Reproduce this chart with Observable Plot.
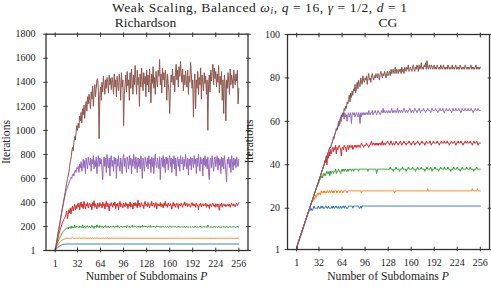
<!DOCTYPE html>
<html><head><meta charset="utf-8">
<script src="https://cdn.jsdelivr.net/npm/d3@7"></script>
<script src="https://cdn.jsdelivr.net/npm/@observablehq/plot@0.6"></script>
<style>
body{margin:0;background:#fff;}
#wrap{position:relative;width:491px;height:287px;overflow:hidden;background:#fff;}
#wrap svg{position:absolute;top:0;}
</style></head><body><div id="wrap"></div>
<script>
const P_TICKS = [1,32,64,96,128,160,192,224,256];
const RICH_Y_TICKS = [1,200,400,600,800,1000,1200,1400,1600,1800];
const CG_Y_TICKS = [1,20,40,60,80,100];
const COLORS = ["#1f77b4","#ff7f0e","#2ca02c","#d62728","#9467bd","#8c564b"];
const TITLE = "Weak Scaling, Balanced";
const PANEL_TITLES = ["Richardson","CG"];
const X_LABEL = "Number of Subdomains";
const Y_LABEL = "Iterations";

// Richardson iterations, P = 1..256
const richBlue = [
1,9,16,22,28,33,37,41,44,47,49,51,52,53,54,55,
55,55,55,55,55,55,55,55,55,55,55,55,55,55,55,55,
55,55,55,55,55,55,55,55,55,55,55,55,55,55,55,55,
55,55,55,55,55,55,55,55,55,55,55,55,55,55,55,55,
55,55,55,55,55,55,55,55,55,55,55,55,55,55,55,55,
55,55,55,55,55,55,55,55,55,55,55,55,55,55,55,55,
55,55,55,55,55,55,55,55,55,55,55,55,55,55,55,55,
55,55,55,55,55,55,55,55,55,55,55,55,55,55,55,55,
55,55,55,55,55,55,55,55,55,55,55,55,55,55,55,55,
55,55,55,55,55,55,55,55,55,55,55,55,55,55,55,55,
55,55,55,55,55,55,55,55,55,55,55,55,55,55,55,55,
55,55,55,55,55,55,55,55,55,55,55,55,55,55,55,55,
55,55,55,55,55,55,55,55,55,55,55,55,55,55,55,55,
55,55,55,55,55,55,55,55,55,55,55,55,55,55,55,55,
55,55,55,55,55,55,55,55,55,55,55,55,55,55,55,55,
55,55,55,55,55,55,55,55,55,55,55,55,55,55,55,55];
const richOrange = [
1,15,28,40,50,59,67,74,80,85,89,92,95,97,99,100,
101,103,100,104,102,105,101,103,106,102,104,101,103,105,102,104,
103,101,105,102,104,103,101,104,102,106,103,101,104,102,103,105,
102,104,101,103,105,102,104,103,101,104,102,105,103,102,104,101,
103,105,102,104,101,103,104,102,105,103,101,104,102,103,105,102,
104,101,103,102,104,103,105,102,103,101,104,102,103,104,102,103,
102,104,103,101,103,104,102,103,102,104,101,103,102,104,103,102,
103,102,104,102,103,101,103,102,104,103,102,103,101,103,102,104,
102,103,101,103,102,104,102,103,102,101,103,102,104,102,103,102,
103,102,103,101,102,103,102,104,102,103,102,101,103,102,103,102,
102,103,102,103,101,102,103,102,103,102,104,102,103,101,102,103,
103,102,101,103,102,103,102,102,103,101,103,102,103,102,104,102,
102,103,102,101,103,102,103,102,103,102,101,103,102,103,102,103,
103,102,103,102,103,101,102,103,102,103,102,103,101,102,103,102,
102,103,101,103,102,103,102,103,102,101,103,102,103,102,103,102,
103,102,103,102,101,103,102,103,102,103,102,101,103,102,103,103];
const richGreen = [
1,22,42,60,76,90,103,115,127,138,150,158,165,172,178,183,
186,192,180,196,188,200,185,205,192,198,188,212,195,190,203,196,
199,188,206,194,201,192,215,190,198,204,187,200,196,208,193,199,
202,189,197,210,194,200,185,205,198,192,214,196,201,190,207,197,
193,204,199,188,202,196,209,192,200,195,205,189,198,203,194,201,
197,206,191,200,196,203,194,208,199,190,201,197,205,193,199,202,
195,204,198,191,207,200,196,203,192,201,198,209,194,200,205,196,
202,193,199,206,197,201,190,204,198,211,195,200,203,197,206,199,
194,203,200,197,208,193,201,199,205,196,202,198,194,204,200,197,
203,196,201,192,199,205,197,200,194,202,198,193,201,196,199,204,
197,201,193,199,196,202,195,200,198,191,197,203,194,199,196,201,
195,199,193,200,197,192,198,201,195,197,193,199,196,194,200,197,
192,198,195,201,194,199,196,193,200,197,203,195,198,194,199,196,
201,195,198,193,212,197,194,200,196,199,192,198,195,201,194,197,
199,193,197,202,195,198,191,196,200,194,199,197,193,198,201,195,
197,193,199,196,201,194,198,195,200,197,193,199,196,202,195,198];
const richRed = [
1,28,55,82,108,132,155,175,195,213,230,246,260,270,282,300,
330,265,300,340,315,355,305,345,370,330,360,385,340,375,350,390,
365,395,340,380,405,360,385,350,410,375,345,390,370,400,355,380,
395,365,385,340,400,375,415,360,390,370,345,395,380,360,400,375,
385,355,405,370,390,345,380,410,365,395,375,330,390,370,400,380,
360,395,375,405,350,385,370,395,340,380,410,365,390,375,355,395,
380,365,400,375,390,350,385,370,405,360,390,380,345,395,375,400,
370,390,355,420,375,395,360,385,400,370,380,350,395,410,375,385,
365,400,380,355,390,375,410,370,385,395,360,380,400,345,390,375,
385,370,400,365,390,380,355,395,375,410,370,385,360,395,380,370,
390,375,345,385,400,370,390,360,380,395,375,350,390,380,370,395,
375,360,390,380,405,370,385,395,365,380,390,375,360,385,400,375,
390,370,385,360,395,380,370,340,385,375,395,365,380,390,370,385,
375,395,360,385,370,380,350,390,375,365,385,395,370,380,360,390,
380,365,390,375,335,385,370,395,360,380,390,370,385,365,380,375,
390,370,385,360,380,395,375,370,390,380,365,385,395,375,390,400];
const richPurple = [
1,38,75,110,145,180,215,250,285,318,350,380,410,440,465,490,
510,530,545,560,580,590,610,600,630,640,620,655,670,650,690,680,
700,650,720,690,740,660,700,760,690,750,640,770,720,680,780,730,
710,770,660,760,720,790,680,750,700,780,640,730,790,700,770,720,
760,680,590,750,780,700,770,650,800,720,690,770,620,760,790,700,
750,660,780,720,770,600,760,700,790,710,660,770,730,640,760,800,
700,770,720,650,780,740,680,790,710,770,640,760,700,800,750,680,
780,720,650,770,700,760,680,790,730,600,770,710,660,780,740,700,
770,680,790,720,760,650,780,700,770,640,750,800,710,690,770,720,
680,780,590,750,770,700,790,690,760,650,780,720,770,670,760,790,
700,770,650,760,720,790,680,770,620,750,780,700,760,660,790,730,
720,780,670,760,700,800,740,680,770,630,760,710,780,670,770,740,
690,790,720,760,640,770,700,800,730,660,780,720,760,620,770,710,
790,700,760,680,780,650,590,750,770,690,790,720,660,760,780,700,
740,790,670,770,710,760,640,780,700,770,680,790,730,650,570,760,
720,780,690,760,650,790,740,670,770,710,760,690,780,730,700,760];
const richBrown = [
1,35,70,105,140,175,210,245,280,315,350,385,420,455,490,525,
560,600,620,650,700,740,770,820,860,830,900,950,920,980,1040,1000,
1060,1020,1120,1080,1150,1060,1180,1130,1210,1100,1190,1240,1160,1280,1220,1300,
1250,1180,1320,1260,1370,1200,1310,1380,1280,1350,1420,1430,1330,930,1290,1360,
1250,1400,1320,1450,1380,1300,1420,1350,1440,1400,1310,1460,1380,1430,1340,1440,
1390,1300,1470,1360,1420,1280,1450,1380,1330,1470,1400,1250,1480,1360,1420,1040,
1300,1380,1460,1320,1490,1370,1420,1250,1480,1350,1510,1400,1300,1460,1380,1540,
1430,1300,1500,1380,1440,1200,1470,1360,1520,1410,1330,1480,1390,1450,1280,1500,
1380,1460,1320,1510,1400,1230,1470,1390,1530,1350,1440,1300,1490,1420,1360,1500,
1450,1590,1380,1470,1310,1520,1420,1480,1360,1500,1430,1250,1470,1390,1320,1140,
1350,1460,1400,1510,1380,1450,1320,1480,1550,1420,1500,1360,1530,1450,1573,1480,
1400,1510,1330,1460,1380,1490,1420,1360,1500,1300,1450,1400,1567,1480,1350,1420,
1110,1380,1470,1180,1420,1350,1490,1300,1440,1380,1520,1260,1460,1400,1330,1480,
1390,1450,1300,1420,1000,1380,1460,1320,1500,1410,1480,1550,1380,1520,1430,1490,
1360,1470,1400,1540,1310,1450,1380,1490,1250,1420,1140,1460,1380,1080,1420,1350,
1480,1400,1300,1510,1380,1460,1420,1350,1500,1430,1380,1470,1410,1500,1220,1350];

// CG iterations, P = 1..256
const cgBlue = [
1,3,4,5,6,7,8,9,10,11,12,13,14,15,16,17,
18,19,19,19,20,19,19,20,21,20,20,20,20,20,21,20,
20,20,21,20,21,20,20,20,21,21,20,20,21,20,20,20,
20,21,20,21,20,20,21,21,20,20,21,20,20,21,20,20,
21,21,20,21,21,20,20,20,21,21,21,21,21,21,20,21,
21,21,21,21,21,21,21,20,20,21,20,21,21,21,21,21,
21,21,21,21,21,21,21,21,21,21,21,21,21,21,21,21,
21,21,21,21,21,21,21,21,21,21,21,21,21,21,21,21,
21,21,21,21,21,21,21,21,21,21,21,21,21,21,21,21,
21,21,21,21,21,21,21,21,21,21,21,21,21,21,21,21,
21,21,21,21,21,21,21,21,21,21,21,21,21,21,21,21,
21,21,21,21,21,21,21,21,21,21,21,21,21,21,21,21,
21,21,21,21,21,21,21,21,21,21,21,21,21,21,21,21,
21,21,21,21,21,21,21,21,21,21,21,21,21,21,21,21,
21,21,21,21,21,21,21,21,21,21,21,21,21,21,21,21,
21,21,21,21,21,21,21,21,21,21,21,21,21,21,21,21];
const cgOrange = [
1,3,4,5,6,7,8,9,10,11,12,13,14,15,16,17,
18,19,20,21,22,23,23,24,25,24,26,25,26,27,26,27,
27,26,28,27,27,28,27,28,27,27,28,28,27,28,28,27,
28,28,27,28,27,28,28,28,27,28,28,28,27,28,28,28,
27,28,28,28,28,28,27,28,28,28,28,28,28,28,28,28,
28,28,28,28,28,28,28,28,28,28,27,28,28,28,28,28,
28,28,28,28,28,28,28,28,28,28,28,28,28,28,28,28,
28,28,28,28,28,28,28,28,28,28,28,28,28,28,28,28,
28,28,28,28,28,28,28,28,27,28,28,28,28,28,28,28,
28,28,28,28,28,28,28,28,28,28,28,28,28,28,28,28,
28,28,28,28,28,28,28,28,28,28,28,28,28,28,28,28,
28,28,28,28,28,28,29,28,28,28,28,28,28,28,28,28,
28,28,28,28,28,28,28,28,28,28,28,28,28,28,28,28,
28,28,28,28,28,28,28,28,28,28,28,28,28,28,28,28,
28,28,28,28,28,28,28,28,28,28,28,28,28,28,28,28,
28,28,28,28,29,28,28,28,28,28,28,29,28,28,28,28];
const cgGreen = [
1,3,4,5,6,7,8,9,10,11,12,13,14,15,16,17,
18,19,20,21,22,23,24,25,26,27,28,29,30,31,31,32,
33,34,34,35,34,36,35,36,35,36,37,36,36,37,35,37,
36,37,37,36,37,37,38,36,37,37,38,37,37,36,37,38,
37,38,37,38,38,37,37,38,37,38,38,38,37,38,38,37,
38,38,38,38,38,38,37,38,38,38,38,38,38,38,38,38,
38,38,38,37,38,38,38,38,38,38,38,38,38,38,38,36,
38,38,38,38,38,38,38,38,38,38,38,38,38,38,38,38,
38,38,39,38,38,38,37,38,38,38,39,38,38,38,38,37,
38,38,38,39,38,38,38,38,37,38,38,39,38,38,38,38,
38,39,38,38,38,37,38,38,39,38,38,38,38,39,38,38,
38,38,37,38,38,39,38,38,38,38,39,38,37,38,38,38,
39,38,38,38,38,37,38,38,39,38,38,38,38,39,38,38,
38,38,39,38,38,38,37,38,38,38,39,38,38,38,38,39,
38,38,38,37,38,38,39,38,38,38,38,38,39,38,38,38,
38,39,38,38,38,38,37,38,38,38,39,38,38,38,38,38];
const cgRed = [
1,3,4,5,6,7,8,9,10,11,12,13,14,15,16,17,
18,19,20,21,22,23,24,25,26,27,28,29,30,31,32,33,
34,35,36,37,38,39,40,42,41,44,40,45,43,46,44,47,
45,47,48,46,48,47,49,45,48,47,48,49,48,47,44,48,
48,47,49,48,48,46,48,49,47,48,49,48,48,49,47,48,
49,48,49,48,49,48,49,49,48,49,50,49,49,48,49,49,
49,50,49,49,48,49,49,50,51,49,50,50,49,50,49,50,
49,50,49,50,50,49,50,51,49,50,50,49,50,50,51,50,
50,49,50,51,50,49,50,50,49,50,51,50,50,49,50,50,
51,50,49,50,50,51,50,50,49,50,50,50,51,50,50,49,
50,50,51,50,49,50,50,50,51,50,50,49,50,50,51,50,
50,50,49,50,51,50,50,50,50,51,50,49,50,50,51,50,
50,50,50,51,50,50,49,50,50,51,50,50,50,51,50,50,
50,51,50,50,49,50,50,51,50,50,50,51,50,49,50,50,
51,50,50,50,51,50,50,49,50,50,51,50,50,51,50,50,
50,51,50,50,49,50,51,50,50,50,51,50,49,50,50,50];
const cgPurple = [
1,3,4,5,6,7,8,9,10,11,12,13,14,15,16,17,
18,19,20,21,22,23,24,25,26,27,28,29,30,31,32,33,
34,35,36,37,38,39,40,41,42,43,44,45,46,47,48,48,
49,50,51,53,52,54,55,57,56,58,60,58,61,62,60,63,
62,63,61,64,62,63,60,63,64,62,63,64,59,63,64,63,
64,62,63,64,63,62,64,63,59,64,62,64,63,64,63,64,
63,64,64,63,65,64,63,64,64,65,63,64,64,65,64,63,
64,65,64,64,63,64,65,64,66,64,65,64,64,65,64,64,
65,64,64,65,66,64,65,64,65,65,64,65,66,64,65,65,
64,65,65,64,65,66,65,64,65,65,64,65,65,66,65,64,
65,65,64,65,66,65,65,64,65,65,66,65,64,65,65,65,
66,65,65,64,65,65,66,65,65,65,64,65,66,65,65,65,
65,66,65,65,64,65,65,66,65,65,65,66,65,64,65,65,
66,65,65,65,66,65,65,64,65,66,65,65,65,66,65,65,
65,66,65,65,64,65,66,65,65,65,66,65,65,65,66,65,
65,65,66,65,65,64,65,65,66,65,65,65,66,65,65,65];
const cgBrown = [
1,3,4,5,6,7,8,9,10,11,12,13,14,15,16,17,
18,19,20,21,22,23,24,25,26,27,28,29,30,31,32,33,
34,35,36,37,38,39,40,41,42,43,44,45,46,47,48,48,
49,50,51,52,53,54,55,56,56,57,58,60,59,61,63,62,
64,63,66,65,67,66,69,68,70,72,69,73,71,74,72,75,
74,77,73,76,78,75,79,77,76,80,78,77,81,79,78,80,
79,81,77,80,82,79,80,78,81,82,80,79,81,80,82,81,
80,82,81,79,82,83,81,80,82,81,83,82,80,82,83,81,
82,83,81,84,82,83,84,82,83,85,82,84,83,82,84,83,
84,82,85,83,84,82,85,84,83,85,84,86,83,84,85,84,
83,85,86,84,83,85,84,86,85,83,86,84,85,87,84,85,
84,86,85,87,84,88,85,84,86,85,84,86,85,84,85,86,
84,85,84,86,85,84,85,84,86,85,84,85,86,84,85,84,
85,84,86,85,84,85,84,85,86,84,85,84,85,86,84,85,
84,85,84,86,85,84,85,84,85,84,86,85,84,85,84,85,
84,85,86,84,85,84,85,84,85,86,84,85,84,85,84,85];

const FONT = "'Liberation Serif', 'DejaVu Serif', serif";
const INK = "#222";

function panel(series, cfg) {
  const marks = series.map((vals, k) =>
    Plot.lineY(vals, {x: (d, i) => i + 1, y: d => d, stroke: COLORS[k], strokeWidth: 1}));
  marks.push(
    Plot.frame({stroke: "#333", strokeWidth: 1.3}),
    Plot.axisX({anchor: "bottom", ticks: P_TICKS, tickSize: 0, tickPadding: 9.5, label: null, fill: INK, tickFormat: d => String(d)}),
    Plot.axisX({anchor: "bottom", ticks: P_TICKS, tickSize: 4.6, dy: -2.3, fill: "none", label: null, stroke: "#333"}),
    Plot.axisX({anchor: "top", ticks: P_TICKS, tickSize: 4.6, dy: 2.3, fill: "none", label: null, stroke: "#333"}),
    Plot.axisY({anchor: "left", ticks: cfg.yTicks, tickSize: 0, tickPadding: cfg.pad, label: null, fill: INK, tickFormat: d => String(d)}),
    Plot.axisY({anchor: "left", ticks: cfg.yTicks, tickSize: 4.6, dx: 2.3, fill: "none", label: null, stroke: "#333"}),
    Plot.axisY({anchor: "right", ticks: cfg.yTicks, tickSize: 4.6, dx: -2.3, fill: "none", label: null, stroke: "#333"})
  );
  const svg = Plot.plot({
    width: cfg.width, height: 287,
    marginLeft: cfg.ml, marginRight: cfg.mr, marginTop: cfg.mt, marginBottom: cfg.mb,
    x: {domain: [-11.75, 268.75]},
    y: {domain: cfg.yDomain},
    style: {fontFamily: FONT, fontSize: "10px", background: "transparent", overflow: "visible"},
    marks
  });
  svg.style.left = cfg.left + "px";
  return svg;
}

const wrap = document.getElementById("wrap");
wrap.appendChild(panel([richBlue, richOrange, richGreen, richRed, richPurple, richBrown],
  {width: 260, left: 0, ml: 45.5, mr: 12.5, mt: 33.7, mb: 37, yDomain: [1, 1800], yTicks: RICH_Y_TICKS, pad: 10.5}));
wrap.appendChild(panel([cgBlue, cgOrange, cgGreen, cgRed, cgPurple, cgBrown],
  {width: 246, left: 245, ml: 42, mr: 2, mt: 34, mb: 38, yDomain: [1, 100], yTicks: CG_Y_TICKS, pad: 7.5}));

// text overlay
const ov = d3.select(wrap).append("svg")
  .attr("width", 491).attr("height", 287)
  .style("left", "0px").style("pointer-events", "none")
  .style("font-family", FONT).attr("fill", INK);

const t = ov.append("text").attr("x", 259.5).attr("y", 12).attr("text-anchor", "middle").style("font-size", "13.5px");
t.append("tspan").text(TITLE + " ");
t.append("tspan").attr("font-style", "italic").text("ω");
t.append("tspan").attr("font-style", "italic").attr("font-size", "9.5px").attr("dy", 2.3).text("i");
t.append("tspan").attr("dy", -2.3).text(", ");
t.append("tspan").attr("font-style", "italic").text("q");
t.append("tspan").text(" = 16, ");
t.append("tspan").attr("font-style", "italic").text("γ");
t.append("tspan").text(" = 1/2, ");
t.append("tspan").attr("font-style", "italic").text("d");
t.append("tspan").text(" = 1");
const tw = t.node().getComputedTextLength();
if (tw < 295) t.attr("textLength", 295).attr("lengthAdjust", "spacing");

[[145.5, PANEL_TITLES[0]], [388, PANEL_TITLES[1]]].forEach(([x, s]) => {
  ov.append("text").attr("x", x).attr("y", 27).attr("text-anchor", "middle").style("font-size", "13.5px").text(s);
});
[146.5, 388].forEach(x => {
  const xl = ov.append("text").attr("x", x).attr("y", 280).attr("text-anchor", "middle").style("font-size", "11.7px");
  xl.append("tspan").text(X_LABEL + " ");
  xl.append("tspan").attr("font-style", "italic").text("P");
});
[[9.5, 142], [253, 141.5]].forEach(([x, y]) => {
  ov.append("text").attr("transform", `translate(${x},${y}) rotate(-90)`).attr("text-anchor", "middle")
    .style("font-size", "11.7px").text(Y_LABEL);
});
</script>
</body></html>
